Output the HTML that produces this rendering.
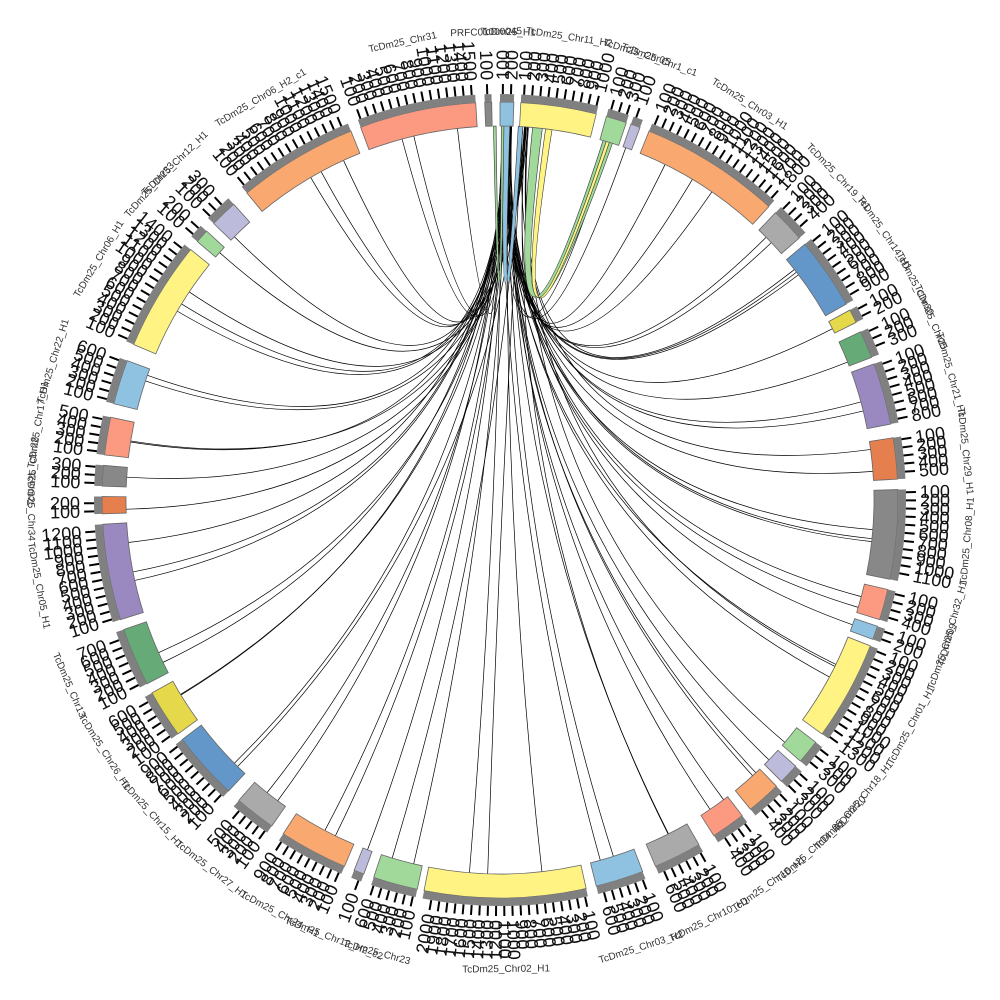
<!DOCTYPE html>
<html><head><meta charset="utf-8"><style>html,body{margin:0;padding:0;background:#fff}svg{display:block}</style></head>
<body>
<svg id="s" width="1000" height="1000" viewBox="0 0 1000 1000" xmlns="http://www.w3.org/2000/svg"></svg>
<script>
const S=document.getElementById('s');const cx=500,cy=500;
const R1=374,R2=398,R3=406,R4=416;
function P(r,a){const t=a*Math.PI/180;return [cx+r*Math.sin(t),cy-r*Math.cos(t)];}
const segs=[
[-2.2,-1.2,'#888888','PRFC01000045'],
[0,2,'#8FC1E0','TcDm25_H1'],
[3,14,'#FFF383','TcDm25_Chr11_H2'],
[15.5,18.5,'#A1D99B','TcDm25_Chr05'],
[19.2,20.6,'#BDBBDC','TcDm25_Chr1_c1'],
[22,42.5,'#F9A870','TcDm25_Chr03_H1'],
[43.8,48.8,'#AAAAAA','TcDm25_Chr19_H1'],
[50,60.5,'#6497C9','TcDm25_Chr14_H1'],
[61.5,63.5,'#E5D84A','TcDm25_Chr30'],
[65,69,'#66AA77','TcDm25_Chr25'],
[70,79,'#9A89C0','TcDm25_Chr21_H1'],
[81,87,'#E57F4E','TcDm25_Chr29_H1'],
[88.5,101.5,'#888888','TcDm25_Chr08_H1'],
[103,107.5,'#FB9A81','TcDm25_Chr32_H1'],
[108.5,110.5,'#8FC1E0','TcDm25_Chr09'],
[111.5,126,'#FFF383','TcDm25_Chr01_H1'],
[127.5,131,'#A1D99B','TcDm25_Chr18_H1'],
[132,135,'#BDBBDC','TcDm25_Chr20'],
[136,141,'#F9A870','TcDm25_Chr04_H1'],
[142.5,147.5,'#FB9A81','TcDm25_Chr16_H1'],
[150,157,'#AAAAAA','TcDm25_Chr10_H1'],
[159,166,'#8FC1E0','TcDm25_Chr03_H2'],
[167.5,191,'#FFF383','TcDm25_Chr02_H1'],
[192,198.5,'#A1D99B','TcDm25_Chr23'],
[200,201.5,'#BDBBDC','TcDm25_Chr12_H2_c2'],
[203,213,'#F9A870','TcDm25_Chr24_H1'],
[215,221,'#AAAAAA','TcDm25_Chr27_H1'],
[223,233,'#6497C9','TcDm25_Chr15_H1'],
[234,241,'#E5D84A','TcDm25_Chr26_H1'],
[242.5,251,'#66AA77','TcDm25_Chr13'],
[252.5,266.5,'#9A89C0','TcDm25_Chr05_H1'],
[268,270.5,'#E57F4E','TcDm25_Chr34'],
[272,275,'#888888','TcDm25_Chr28'],
[276.5,282,'#FB9A81','TcDm25_Chr17_H1'],
[284,290.5,'#8FC1E0','TcDm25_Chr22_H1'],
[293,309,'#FFF383','TcDm25_Chr06_H1'],
[310.5,312.5,'#A1D99B','TcDm25_Chr33'],
[314,318,'#BDBBDC','TcDm25_Chr12_H1'],
[320.5,338,'#F9A870','TcDm25_Chr06_H2_c1'],
[339.5,356.5,'#FB9A81','TcDm25_Chr31']
];
let h='';
function arc(r1,r2,a,b,fill,stroke){const p1=P(r2,a),p2=P(r2,b),p3=P(r1,b),p4=P(r1,a);const l=(b-a)>180?1:0;
return `<path d="M${p1} A${r2},${r2} 0 ${l} 1 ${p2} L${p3} A${r1},${r1} 0 ${l} 0 ${p4}Z" fill="${fill}" stroke="${stroke}" stroke-width="0.8"/>`;}
let seed=7;function rnd(){seed=(seed*9301+49297)%233280;return seed/233280;}
segs.forEach((s,i)=>{if(i<3)return;const n=(s[1]-s[0])>10?3:((s[1]-s[0])>4?2:1);
for(let k=0;k<n;k++){const b=s[0]+(s[1]-s[0])*(0.15+0.7*rnd());
const a=(rnd()<0.75)?(0.3+1.5*rnd()):(3.2+1.2*rnd());
const a1=P(R1,a),b1=P(R1,b);
h+=`<path d="M${a1} Q${cx},${cy} ${b1}" fill="none" stroke="#000" stroke-width="0.7"/>`;}});
h+=`<path d="M${P(R1,5)} Q${cx},${cy-40} ${P(R1,16)} L${P(R1,17.5)} Q${cx},${cy-40} ${P(R1,6.5)}Z" fill="#A1D99B" stroke="#333" stroke-width="0.6"/>`;
h+=`<path d="M${P(R1,7)} Q${cx},${cy-40} ${P(R1,16.5)} L${P(R1,17)} Q${cx},${cy-40} ${P(R1,8)}Z" fill="#FFF383" stroke="#333" stroke-width="0.6"/>`;
h+=`<path d="M${P(R1,0.5)} Q${cx},${cy-60} ${P(R1,2.8)} L${P(R1,3.5)} Q${cx},${cy-60} ${P(R1,1.5)}Z" fill="#8FC1E0" stroke="#333" stroke-width="0.6"/>`;
h+=`<path d="M${P(R1,-1)} Q${cx},${cy-60} ${P(R1,0.2)} L${P(R1,0.6)} Q${cx},${cy-60} ${P(R1,-0.6)}Z" fill="#A1D99B" stroke="#333" stroke-width="0.6"/>`;
segs.forEach(s=>{const [a,b,c,name]=s;
h+=arc(R1,R2,a,b,c,'#666');
h+=arc(R2,R3,a,b,'#808080','none');
const step=1.15;let k=1;
for(let t=a+0.4;t<=b-0.2;t+=step,k++){const q1=P(R3,t),q2=P(R4,t);
h+=`<line x1="${q1[0]}" y1="${q1[1]}" x2="${q2[0]}" y2="${q2[1]}" stroke="#000" stroke-width="2"/>`;
const aa=((t%360)+360)%360;const left=aa>180;
const p=P(420,t);const rot=left?t+90:t-90;
h+=`<text x="${p[0]}" y="${p[1]}" transform="rotate(${rot} ${p[0]} ${p[1]})" font-family="Liberation Sans,sans-serif" font-size="18" fill="#111" dominant-baseline="central" text-anchor="${left?'end':'start'}">${k*100}</text>`;}
const m=(a+b)/2;const aa=((m%360)+360)%360;const flip=aa>90&&aa<270;const p=P(flip?472:465,m);
h+=`<text x="${p[0]}" y="${p[1]}" transform="rotate(${flip?m-180:m} ${p[0]} ${p[1]})" font-family="Liberation Sans,sans-serif" font-size="10" fill="#333" text-anchor="middle">${name}</text>`;});
S.innerHTML=h;
</script>
</body></html>
